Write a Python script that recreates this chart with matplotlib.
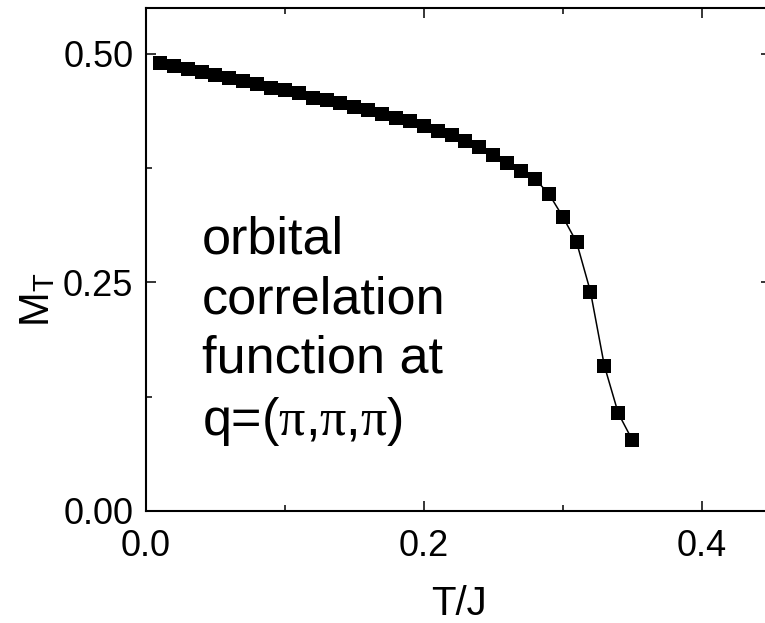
import numpy as np
import matplotlib
matplotlib.use("Agg")
import matplotlib.pyplot as plt

plt.rcParams['font.family'] = ['Liberation Sans', 'DejaVu Sans']
plt.rcParams['mathtext.fontset'] = 'custom'
plt.rcParams['mathtext.rm'] = 'Liberation Serif'
plt.rcParams['mathtext.sf'] = 'Liberation Sans'
plt.rcParams['mathtext.it'] = 'Liberation Serif:italic'

# temperature T/J and orbital correlation M_T
temp = [0.01, 0.02, 0.03, 0.04, 0.05, 0.06, 0.07, 0.08, 0.09, 0.10,
        0.11, 0.12, 0.13, 0.14, 0.15, 0.16, 0.17, 0.18, 0.19, 0.20,
        0.21, 0.22, 0.23, 0.24, 0.25, 0.26, 0.27, 0.28, 0.29, 0.30,
        0.31, 0.32, 0.33, 0.34, 0.35]
m_t = [0.490, 0.487, 0.483, 0.480, 0.477, 0.473, 0.470, 0.467, 0.463, 0.460,
       0.457, 0.452, 0.449, 0.446, 0.442, 0.438, 0.434, 0.430, 0.426, 0.421,
       0.416, 0.411, 0.405, 0.398, 0.389, 0.381, 0.372, 0.363, 0.347, 0.322,
       0.294, 0.240, 0.159, 0.107, 0.078]

fig = plt.figure(figsize=(7.65, 6.23), dpi=100)
ax = fig.add_axes([146/765, 112/623, 625/765, 503/623])

ax.plot(temp, m_t, color='black', lw=1.1, marker='s', ms=10,
        markeredgewidth=0, markerfacecolor='black')

ax.set_xlim(0, 0.45)
ax.set_ylim(0, 0.55)
ax.set_xticks([0.0, 0.2, 0.4])
ax.set_xticklabels(['0.0', '0.2', '0.4'])
ax.set_xticks([0.1, 0.3], minor=True)
ax.set_yticks([0.0, 0.25, 0.5])
ax.set_yticklabels(['0.00', '0.25', '0.50'])
ax.set_yticks([0.125, 0.375], minor=True)

ax.tick_params(which='both', direction='in', top=True, right=True, width=1.1)
ax.tick_params(which='major', length=7, labelsize=26)
ax.tick_params(which='minor', length=4.3)
ax.tick_params(axis='x', which='major', pad=13)
ax.tick_params(axis='y', which='major', pad=9)
for s in ax.spines.values():
    s.set_linewidth(1.5)

ax.set_xlabel('T/J', fontsize=29)
ax.xaxis.set_label_coords(0.5, -0.148)
ax.set_ylabel(r'M$_\mathsf{T}$', fontsize=30)
ax.yaxis.set_label_coords(-0.14, 0.42)

# last line's baseline sits at the given y
ax.text(0.040, 0.083,
        'orbital\ncorrelation\nfunction at\n'
        r'q=($\mathrm{\pi}$,$\mathrm{\pi}$,$\mathrm{\pi}$)',
        fontsize=37.5, va='baseline', ha='left', linespacing=1.28)

fig.savefig('out.png', dpi=100)
